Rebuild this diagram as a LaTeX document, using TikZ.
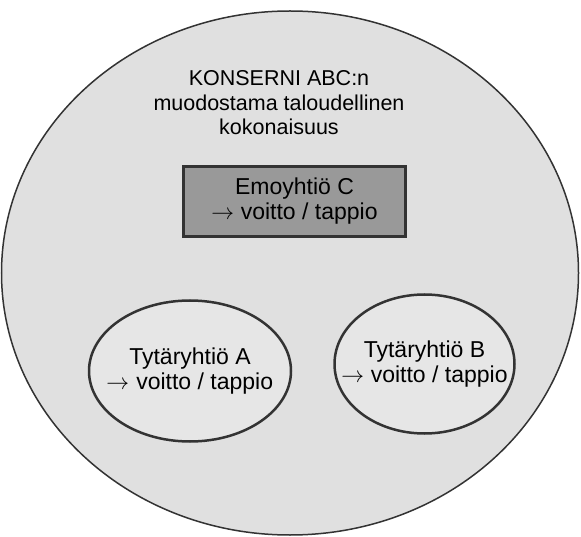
\documentclass[tikz,border=0pt]{standalone}
\usepackage{unicode-math}
\setmainfont{Liberation Sans}
\setmathfont{Latin Modern Math}
\usetikzlibrary{shapes.geometric,positioning}
\definecolor{EdgeGray}{HTML}{333333}
\definecolor{GroupGray}{HTML}{E0E0E0}
\definecolor{SubGray}{HTML}{E6E6E6}
\definecolor{ParentGray}{HTML}{999999}

\begin{document}
\begin{tikzpicture}[
  x=1pt,y=-1pt,
  every node/.style={align=center,inner sep=0pt,font=\fontsize{23}{25}\selectfont},
  group/.style={ellipse,draw=EdgeGray,fill=GroupGray,line width=1.5pt,minimum width=577pt,minimum height=524pt},
  parent/.style={draw=EdgeGray,fill=ParentGray,line width=2.5pt,minimum width=222pt,minimum height=70pt},
  sub/.style={ellipse,draw=EdgeGray,fill=SubGray,line width=2.5pt}
]
\useasboundingbox (0,0) rectangle (581,537);
\node[group] (konserni) at (290,273) {};
\node[font=\fontsize{21.5}{24.5}\selectfont] (otsikko) at (279,103) {KONSERNI ABC:n\\muodostama taloudellinen\\kokonaisuus};
\node[parent] (emo) at (294.5,201.5) {Emoyhtiö C\\$\rightarrow$ voitto / tappio};
\node[sub,minimum width=202pt,minimum height=141pt] (tytarA) at (190,371) {};
\node[sub,minimum width=180pt,minimum height=139pt] (tytarB) at (424.5,364) {};
\node (tekstiA) at (tytarA.center) {Tytäryhtiö A\\$\rightarrow$ voitto / tappio};
\node (tekstiB) at (tytarB.center) {Tytäryhtiö B\\$\rightarrow$ voitto / tappio};
\end{tikzpicture}
\end{document}
